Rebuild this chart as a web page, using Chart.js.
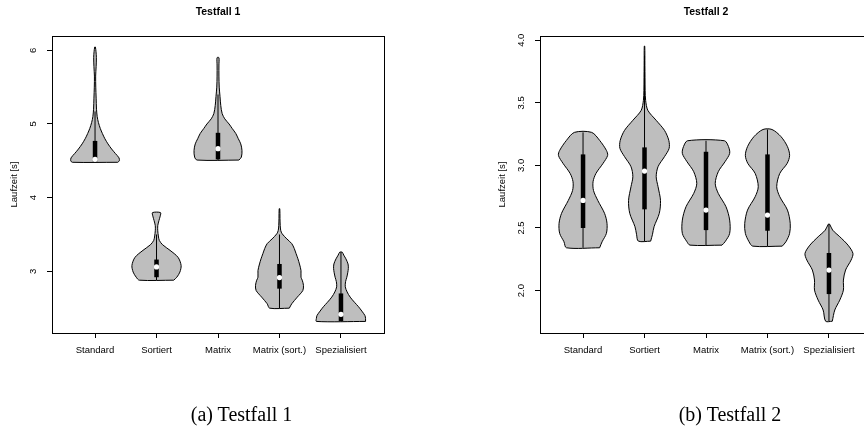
<!DOCTYPE html>
<html><head><meta charset="utf-8">
<script src="https://cdn.jsdelivr.net/npm/chart.js@4.4.1/dist/chart.umd.min.js"></script>
<style>
html,body{margin:0;padding:0;background:#fff;overflow:hidden;width:864px;height:426px;}
#w1{position:absolute;left:0;top:0;width:432px;height:426px;}
#w2{position:absolute;left:432px;top:0;width:448px;height:426px;}
.cap{position:absolute;font-family:'Liberation Serif';font-size:20px;color:#000;white-space:nowrap;transform:translateX(-50%);line-height:20px;}
</style></head><body>
<div id="w1"><canvas id="c1" width="432" height="426"></canvas></div>
<div id="w2"><canvas id="c2" width="448" height="426"></canvas></div>
<div class="cap" style="left:241.5px;top:404px">(a) Testfall 1</div>
<div class="cap" style="left:730px;top:404px">(b) Testfall 2</div>
<script>
const categories = ['Standard', 'Sortiert', 'Matrix', 'Matrix (sort.)', 'Spezialisiert'];

const t1YTicks = [3, 4, 5, 6];
const t1YLabels = ['3', '4', '5', '6'];
const t2YTicks = [2.0, 2.5, 3.0, 3.5, 4.0];
const t2YLabels = ['2.0', '2.5', '3.0', '3.5', '4.0'];

// Testfall 1: violin outlines (value levels and half-widths)
const t1ProfileY = [
  [4.48, 4.50, 4.54, 4.60, 4.66, 4.73, 4.80, 4.87, 4.94, 5.02, 5.10, 5.20, 5.35, 5.50, 5.65, 5.78, 5.90, 5.98, 6.045],
  [2.88, 2.92, 2.99, 3.08, 3.19, 3.285, 3.36, 3.42, 3.48, 3.55, 3.62, 3.69, 3.75, 3.797],
  [4.51, 4.55, 4.64, 4.73, 4.80, 4.87, 4.94, 5.00, 5.07, 5.14, 5.25, 5.37, 5.50, 5.65, 5.80, 5.90],
  [2.50, 2.56, 2.65, 2.74, 2.81, 2.88, 2.92, 3.01, 3.10, 3.17, 3.24, 3.31, 3.376, 3.44, 3.51, 3.556, 3.62, 3.72, 3.85],
  [2.32, 2.36, 2.40, 2.46, 2.52, 2.58, 2.65, 2.72, 2.79, 2.86, 2.92, 2.98, 3.04, 3.10, 3.17, 3.22, 3.26]
];
const t1ProfileW = [
  [0.37, 0.395, 0.39, 0.33, 0.27, 0.21, 0.16, 0.12, 0.085, 0.055, 0.035, 0.024, 0.018, 0.012, 0.010, 0.018, 0.022, 0.016, 0.005],
  [0.28, 0.33, 0.38, 0.40, 0.35, 0.22, 0.10, 0.045, 0.03, 0.02, 0.02, 0.04, 0.06, 0.065],
  [0.34, 0.38, 0.39, 0.37, 0.33, 0.29, 0.23, 0.18, 0.11, 0.068, 0.045, 0.033, 0.02, 0.015, 0.015, 0.015],
  [0.16, 0.20, 0.29, 0.38, 0.39, 0.37, 0.35, 0.35, 0.325, 0.30, 0.27, 0.24, 0.20, 0.12, 0.043, 0.02, 0.012, 0.008, 0.005],
  [0.40, 0.40, 0.39, 0.34, 0.285, 0.22, 0.15, 0.10, 0.07, 0.075, 0.095, 0.11, 0.12, 0.115, 0.08, 0.045, 0.02]
];
const t1Q1 = [4.49, 2.92, 4.52, 2.765, 2.325];
const t1Q3 = [4.77, 3.16, 4.88, 3.10, 2.70];
const t1Median = [4.52, 3.06, 4.665, 2.915, 2.416];
const t1WhiskerLo = [4.48, 2.88, 4.51, 2.50, 2.32];
const t1WhiskerHi = [5.17, 3.50, 5.40, 3.50, 3.26];

// Testfall 2
const t2ProfileY = [
  [2.342, 2.39, 2.457, 2.537, 2.617, 2.72, 2.80, 2.87, 2.936, 3.016, 3.08, 3.12, 3.20, 3.264],
  [2.395, 2.45, 2.51, 2.617, 2.72, 2.83, 2.91, 2.99, 3.07, 3.136, 3.20, 3.28, 3.36, 3.44, 3.52, 3.60, 3.70, 3.80, 3.953],
  [2.363, 2.39, 2.457, 2.563, 2.67, 2.776, 2.856, 2.95, 3.03, 3.096, 3.15, 3.197],
  [2.355, 2.39, 2.457, 2.537, 2.643, 2.75, 2.83, 2.936, 3.016, 3.08, 3.15, 3.23, 3.287],
  [1.755, 1.845, 1.924, 2.004, 2.084, 2.164, 2.244, 2.297, 2.363, 2.43, 2.483, 2.531]
];
const t2ProfileW = [
  [0.27, 0.31, 0.38, 0.39, 0.35, 0.24, 0.17, 0.163, 0.21, 0.325, 0.40, 0.38, 0.27, 0.14],
  [0.10, 0.13, 0.155, 0.24, 0.26, 0.22, 0.19, 0.22, 0.325, 0.40, 0.395, 0.325, 0.19, 0.054, 0.018, 0.010, 0.008, 0.006, 0.004],
  [0.26, 0.31, 0.385, 0.385, 0.325, 0.20, 0.15, 0.20, 0.31, 0.385, 0.366, 0.30],
  [0.24, 0.30, 0.36, 0.37, 0.325, 0.20, 0.15, 0.20, 0.32, 0.36, 0.325, 0.22, 0.073],
  [0.054, 0.095, 0.176, 0.235, 0.235, 0.27, 0.36, 0.39, 0.31, 0.176, 0.06, 0.01]
];
const t2Q1 = [2.50, 2.649, 2.483, 2.478, 1.972];
const t2Q3 = [3.088, 3.144, 3.109, 3.088, 2.30];
const t2Median = [2.72, 2.955, 2.643, 2.603, 2.164];
const t2WhiskerLo = [2.342, 2.395, 2.363, 2.355, 1.755];
const t2WhiskerHi = [3.264, 3.88, 3.197, 3.287, 2.531];

const FONT = 'Liberation Sans';

function buildDatasets(profY, profW, q1, q3, med, wlo, whi) {
  const ds = [];
  categories.forEach((c, i) => {
    const cx = i + 1;
    const ys = profY[i], ws = profW[i];
    const pts = ys.map((y, k) => ({x: cx + ws[k], y: y}));
    for (let k = ys.length - 1; k >= 0; k--) pts.push({x: cx - ws[k], y: ys[k]});
    pts.push({x: pts[0].x, y: pts[0].y});
    ds.push({label: c, data: pts, showLine: true, fill: 'shape', backgroundColor: '#bebebe',
      borderColor: '#000', borderWidth: 1, tension: 0.3, pointRadius: 0, order: 3});
    ds.push({label: c + ' whisker', data: [{x: cx, y: wlo[i]}, {x: cx, y: whi[i]}], showLine: true,
      borderColor: '#000', borderWidth: 1, pointRadius: 0, fill: false, order: 2});
    ds.push({label: c + ' box', data: [{x: cx, y: q1[i]}, {x: cx, y: q3[i]}], showLine: true,
      borderColor: '#000', borderWidth: 4.5, borderCapStyle: 'butt', pointRadius: 0, fill: false, order: 1});
    ds.push({label: c + ' median', data: [{x: cx, y: med[i]}], pointRadius: 2.6,
      pointBackgroundColor: '#fff', pointBorderColor: '#fff', pointBorderWidth: 0, order: 0});
  });
  return ds;
}

const framePlugin = {
  id: 'frame',
  afterDatasetsDraw(chart) {
    const {ctx, chartArea: a} = chart;
    ctx.save();
    ctx.strokeStyle = '#000';
    ctx.lineWidth = 1;
    ctx.strokeRect(Math.round(a.left) + 0.5, Math.round(a.top) + 0.5,
      Math.round(a.right - a.left), Math.round(a.bottom - a.top));
    ctx.restore();
  }
};

function makeChart(id, title, yMin, yMax, yTicks, yLabels, datasets, pad, yTickPad) {
  return new Chart(document.getElementById(id), {
    type: 'scatter',
    data: {datasets: datasets},
    options: {
      responsive: false, animation: false, devicePixelRatio: 1,
      layout: {padding: pad},
      plugins: {
        legend: {display: false}, tooltip: {enabled: false},
        title: {display: true, text: title, fullSize: false, color: '#000',
          font: {family: FONT, size: 10.5, weight: 'bold'}, padding: {top: 6, bottom: 17.4}}
      },
      scales: {
        x: {
          type: 'linear', min: 0.3, max: 5.7,
          afterBuildTicks: s => { s.ticks = categories.map((c, i) => ({value: i + 1})); },
          ticks: {callback: (v, i) => categories[i], autoSkip: false, maxRotation: 0, minRotation: 0,
            color: '#000', font: {family: FONT, size: 9.5}, padding: 6.3},
          grid: {drawOnChartArea: false, drawTicks: true, tickLength: 5, color: '#000', lineWidth: 1},
          border: {display: false},
          afterFit: s => { s.height = 30; }
        },
        y: {
          type: 'linear', min: yMin, max: yMax,
          afterBuildTicks: s => { s.ticks = yTicks.map(v => ({value: v})); },
          ticks: {callback: (v, i) => yLabels[i], autoSkip: false, minRotation: 90, maxRotation: 90,
            crossAlign: 'center', color: '#000', font: {family: FONT, size: 9.5}, padding: yTickPad},
          grid: {drawOnChartArea: false, drawTicks: true, tickLength: 5, color: '#000', lineWidth: 1},
          border: {display: false},
          title: {display: true, text: 'Laufzeit [s]', color: '#000',
            font: {family: FONT, size: 9.5}, padding: {top: 9, bottom: 0}},
          afterFit: s => { s.width = 52; }
        }
      }
    },
    plugins: [framePlugin]
  });
}

makeChart('c1', 'Testfall 1', 2.163, 6.194, t1YTicks, t1YLabels,
  buildDatasets(t1ProfileY, t1ProfileW, t1Q1, t1Q3, t1Median, t1WhiskerLo, t1WhiskerHi),
  {left: 0, right: 48, top: 0, bottom: 63}, 11.4);
makeChart('c2', 'Testfall 2', 1.661, 4.034, t2YTicks, t2YLabels,
  buildDatasets(t2ProfileY, t2ProfileW, t2Q1, t2Q3, t2Median, t2WhiskerLo, t2WhiskerHi),
  {left: 56, right: 8, top: 0, bottom: 63}, 7);
</script>
</body></html>
